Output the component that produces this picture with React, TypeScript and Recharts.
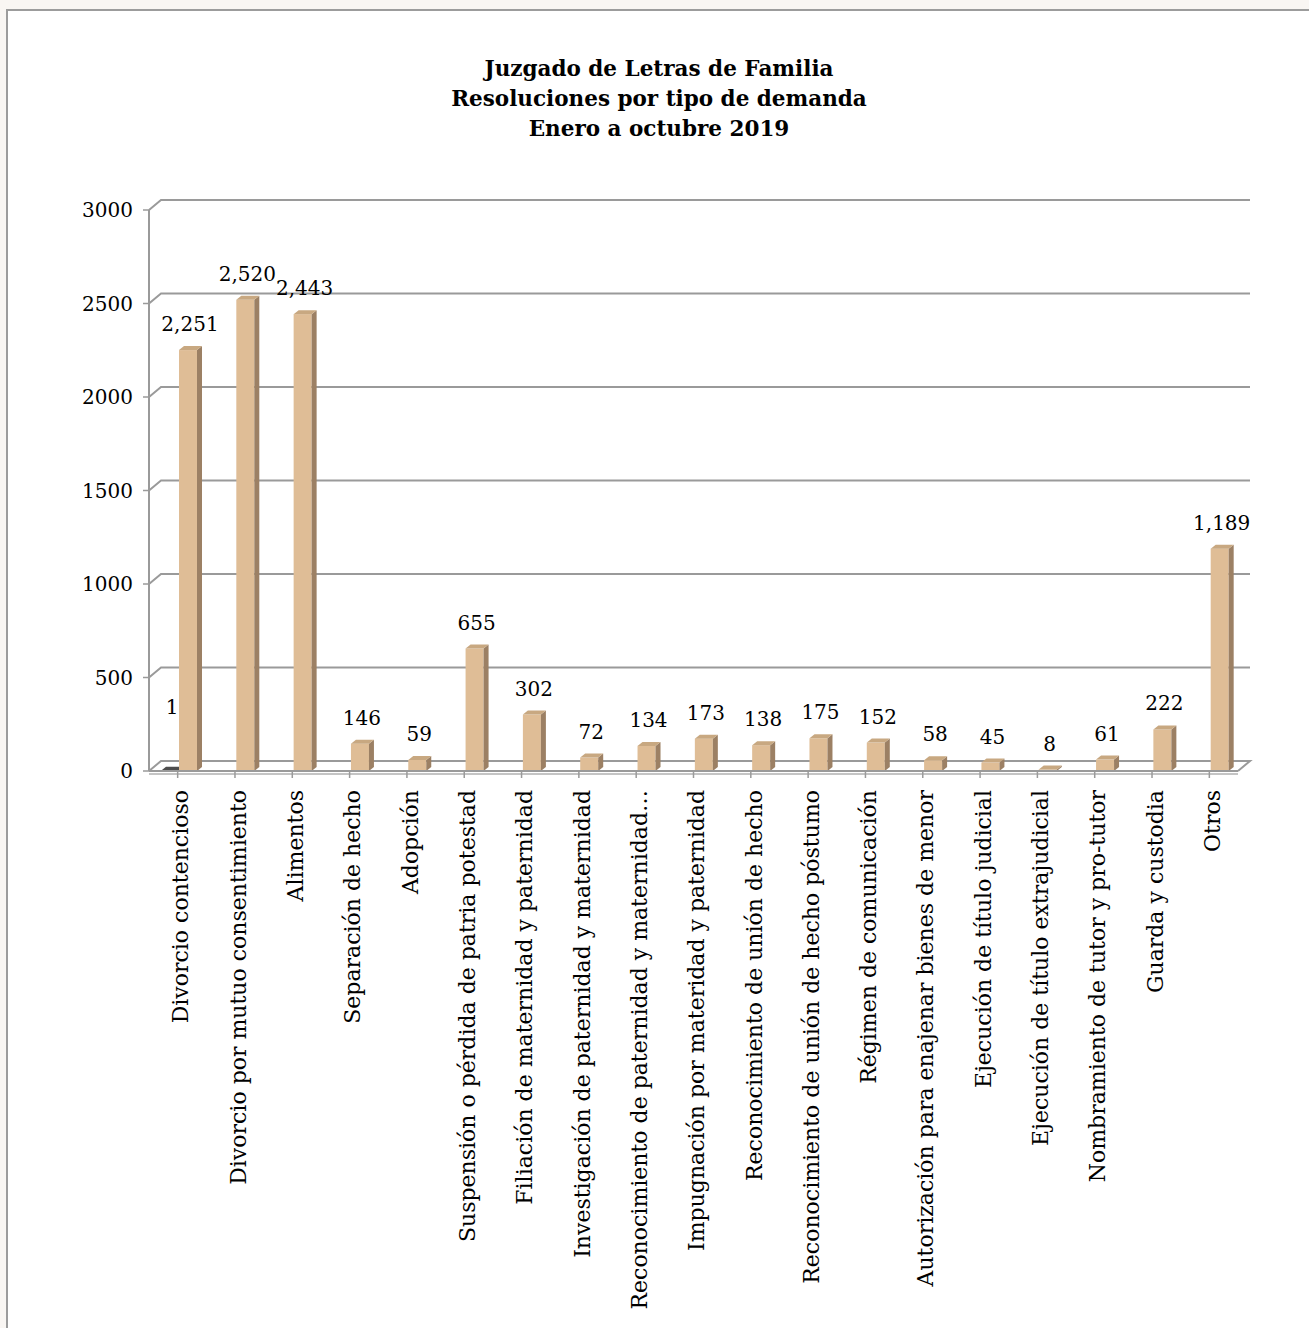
import React from "react";
import {
  BarChart,
  Bar,
  XAxis,
  YAxis,
  CartesianGrid,
  LabelList,
} from "recharts";

const titleLines = [
  "Juzgado de Letras de Familia",
  "Resoluciones por tipo de demanda",
  "Enero a octubre 2019",
];

const categories = [
  "Divorcio contencioso",
  "Divorcio por mutuo consentimiento",
  "Alimentos",
  "Separación de hecho",
  "Adopción",
  "Suspensión o pérdida de patria potestad",
  "Filiación de maternidad y paternidad",
  "Investigación de paternidad y maternidad",
  "Reconocimiento de paternidad y maternidad…",
  "Impugnación por materidad y paternidad",
  "Reconocimiento de unión de hecho",
  "Reconocimiento de unión de hecho póstumo",
  "Régimen de comunicación",
  "Autorización para enajenar bienes de menor",
  "Ejecución de título judicial",
  "Ejecución de título extrajudicial",
  "Nombramiento de tutor y pro-tutor",
  "Guarda y custodia",
  "Otros",
];

// small second series, only present in the first category
const serieOscura = [1, null, null, null, null, null, null, null, null, null, null, null, null, null, null, null, null, null, null];

const resoluciones = [2251, 2520, 2443, 146, 59, 655, 302, 72, 134, 173, 138, 175, 152, 58, 45, 8, 61, 222, 1189];

const yTicks = [0, 500, 1000, 1500, 2000, 2500, 3000];

const data = categories.map((name, i) => ({
  name,
  oscura: serieOscura[i],
  valor: resoluciones[i],
}));

const FONT = "'DejaVu Serif', serif";
const GRID = "#9a9a9a";
const DX = 12;
const DY = 10;

const make3DBar = (front: string, side: string, top: string) => (props: any) => {
  const { x, y, width, height } = props;
  if (x == null || y == null) return <g />;
  const s = 1;
  const d = 5;
  const dv = 4;
  const fx = x + s;
  const h = Math.max(height, 0);
  return (
    <g>
      <rect x={fx} y={y} width={width} height={h} fill={front} />
      <polygon
        points={`${fx + width},${y} ${fx + width + d},${y - dv} ${fx + width + d},${y + h - dv} ${fx + width},${y + h}`}
        fill={side}
      />
      <polygon
        points={`${fx},${y} ${fx + d},${y - dv} ${fx + width + d},${y - dv} ${fx + width},${y}`}
        fill={top}
      />
    </g>
  );
};

const tanBar = make3DBar("#dfbd96", "#9c8064", "#c8a881");
const darkBar = make3DBar("#3f3f3f", "#2c2c2c", "#4d4d4d");

const makeLabel = (offset: number) => (props: any) => {
  const { x, y, width, value } = props;
  if (value == null) return null;
  return (
    <text
      x={x + width / 2 + 3}
      y={y - offset}
      textAnchor="middle"
      fontFamily={FONT}
      fontSize={20}
      fill="#000"
    >
      {Number(value).toLocaleString("en-US")}
    </text>
  );
};

const CatTick = (props: any) => {
  const { x, y, payload } = props;
  const ty = y + 10;
  const tx = x + 3;
  return (
    <text
      x={tx}
      y={ty}
      dy="0.35em"
      transform={`rotate(-90, ${tx}, ${ty})`}
      textAnchor="end"
      fontFamily={FONT}
      fontSize={22}
      fill="#000"
    >
      {payload.value}
    </text>
  );
};

const gridLine = (props: any) => {
  const { x1, x2, y1, index } = props;
  const isFloor = Math.abs(y1 - 771) < 2;
  if (isFloor) {
    return (
      <g key={`floor-${index}`}>
        <path
          d={`M${x1},${y1} L${x1 + DX},${y1 - DY} L${x2 + DX},${y1 - DY} L${x2},${y1}`}
          fill="#fff"
          stroke={GRID}
          strokeWidth={2}
        />
        <line x1={x1} y1={y1 + 3} x2={x2} y2={y1 + 3} stroke="#c4c4c4" strokeWidth={2} />
      </g>
    );
  }
  return (
    <path
      key={`grid-${index}`}
      d={`M${x1},${y1} L${x1 + DX},${y1 - DY} L${x2 + DX},${y1 - DY}`}
      fill="none"
      stroke={GRID}
      strokeWidth={2}
    />
  );
};

export default function App() {
  return (
    <div
      style={{
        position: "fixed",
        left: 0,
        top: 0,
        width: 1309,
        height: 1328,
        background: "#f9f6f3",
        overflow: "hidden",
      }}
    >
      <div
        style={{
          position: "absolute",
          left: 6,
          top: 9,
          width: 1330,
          height: 1340,
          border: "2px solid #9c9c9c",
          background: "#fff",
        }}
      />
      <div
        style={{
          position: "absolute",
          left: 0,
          top: 54,
          width: 1318,
          textAlign: "center",
          fontFamily: FONT,
          fontWeight: "bold",
          fontSize: 21.5,
          lineHeight: "30px",
          color: "#000",
        }}
      >
        {titleLines.map((t) => (
          <div key={t}>{t}</div>
        ))}
      </div>
      <div style={{ position: "absolute", left: 0, top: 0 }}>
        <BarChart
          width={1309}
          height={1328}
          data={data}
          margin={{ top: 210, right: 71, left: 69, bottom: 37 }}
          barSize={18}
          barGap={0}
        >
          <CartesianGrid vertical={false} horizontal={gridLine} />
          <XAxis
            dataKey="name"
            interval={0}
            height={520}
            tick={CatTick}
            tickSize={7}
            axisLine={{ stroke: GRID, strokeWidth: 2 }}
            tickLine={{ stroke: GRID, strokeWidth: 1.5 }}
          />
          <YAxis
            domain={[0, 3000]}
            ticks={yTicks}
            interval={0}
            width={80}
            tickSize={6}
            tickMargin={10}
            axisLine={{ stroke: GRID, strokeWidth: 2 }}
            tickLine={{ stroke: GRID, strokeWidth: 1.5 }}
            tick={{ fontFamily: FONT, fontSize: 20, fill: "#000" }}
          />
          <Bar dataKey="oscura" shape={darkBar} isAnimationActive={false}>
            <LabelList dataKey="oscura" content={makeLabel(57)} />
          </Bar>
          <Bar dataKey="valor" shape={tanBar} isAnimationActive={false}>
            <LabelList dataKey="valor" content={makeLabel(19)} />
          </Bar>
        </BarChart>
      </div>
    </div>
  );
}
